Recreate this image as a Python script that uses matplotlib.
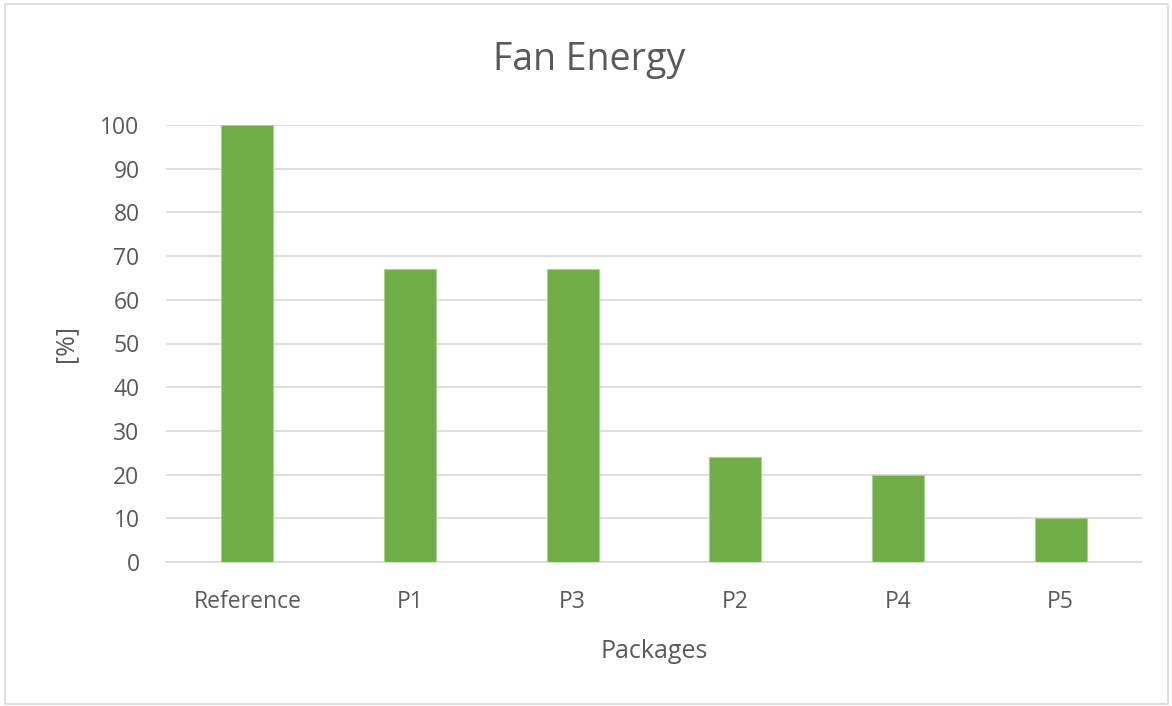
import matplotlib
matplotlib.use('Agg')
import matplotlib.pyplot as plt
from matplotlib.patches import Rectangle

packages = ['Reference', 'P1', 'P3', 'P2', 'P4', 'P5']
fan_energy = [100, 67, 67, 24, 20, 10]

plt.rcParams['font.family'] = ['Open Sans', 'DejaVu Sans']
text_col = '#595959'

W, H = 1172, 706
fig = plt.figure(figsize=(W / 100, H / 100), dpi=100)
ax = fig.add_axes([166 / W, 1 - 562 / H, (1142 - 166) / W, (562 - 125) / H])

x = list(range(len(packages)))
ax.bar(x, fan_energy, width=0.32, color='#70AD47', edgecolor='#A9D18E', linewidth=0.8, zorder=3)

ax.set_xlim(-0.5, len(packages) - 0.5)
ax.set_ylim(0, 100)
ax.set_yticks(range(0, 101, 10))
ax.set_xticks(x)
ax.set_xticklabels(packages)
ax.grid(axis='y', color='#D9D9D9', linewidth=1.2, zorder=0)
ax.set_axisbelow(True)
for s in ['left', 'right', 'top']:
    ax.spines[s].set_visible(False)
ax.spines['bottom'].set_color('#D9D9D9')
ax.spines['bottom'].set_linewidth(1.2)
ax.tick_params(axis='both', length=0, labelsize=16.5, colors=text_col)
ax.tick_params(axis='y', pad=19)
ax.tick_params(axis='x', pad=20)

# title centred on the whole chart, like Excel
fig.text(0.503, 1 - 70 / H, 'Fan Energy', fontsize=27, color=text_col, ha='center', va='baseline')
ax.set_xlabel('Packages', fontsize=18, color=text_col, labelpad=18)
ax.set_ylabel('[%]', fontsize=18, color=text_col, labelpad=16)

# chart border
fig.patches.append(Rectangle((5 / W, 2 / H), 1163 / W, 700 / H, transform=fig.transFigure,
                             fill=False, edgecolor='#D9D9D9', linewidth=1.2))

fig.savefig('out.png', dpi=100)
